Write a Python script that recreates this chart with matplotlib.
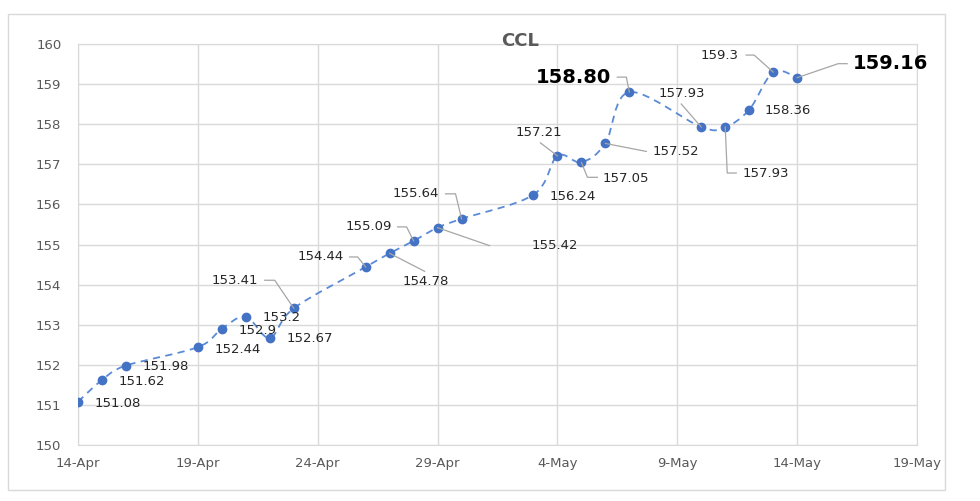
import datetime as dt
import numpy as np
import matplotlib
matplotlib.use("Agg")
import matplotlib.pyplot as plt
import matplotlib.dates as mdates
from matplotlib.path import Path
from matplotlib.patches import PathPatch, Rectangle
from matplotlib.lines import Line2D

# data
dates = ["2021-04-14", "2021-04-15", "2021-04-16", "2021-04-19", "2021-04-20",
         "2021-04-21", "2021-04-22", "2021-04-23", "2021-04-26", "2021-04-27",
         "2021-04-28", "2021-04-29", "2021-04-30", "2021-05-03", "2021-05-04",
         "2021-05-05", "2021-05-06", "2021-05-07", "2021-05-10", "2021-05-11",
         "2021-05-12", "2021-05-13", "2021-05-14"]
values = [151.08, 151.62, 151.98, 152.44, 152.9, 153.2, 152.67, 153.41, 154.44,
          154.78, 155.09, 155.42, 155.64, 156.24, 157.21, 157.05, 157.52, 158.8,
          157.93, 157.93, 158.36, 159.3, 159.16]
labels = ["151.08", "151.62", "151.98", "152.44", "152.9", "153.2", "152.67",
          "153.41", "154.44", "154.78", "155.09", "155.42", "155.64", "156.24",
          "157.21", "157.05", "157.52", "158.80", "157.93", "157.93", "158.36",
          "159.3", "159.16"]
bold_labels = {"158.80", "159.16"}

# label placement: (dx, dy, ha) in pixels, plus leader polyline offsets
label_pos = [
    (17, -2, "left", None),
    (17, -1, "left", None),
    (17, -1, "left", None),
    (17, -2, "left", None),
    (17, -2, "left", None),
    (17, -1, "left", None),
    (17, -1, "left", None),
    (-36, 28, "right", [(-19, 28), (-29, 28)]),
    (-22, 10, "right", [(-8, 10), (-16, 10)]),
    (13, -28, "left", [(35, -18)]),
    (-22, 14, "right", [(-7, 14), (-16, 14)]),
    (94, -18, "left", [(52, -18)]),
    (-23, 25, "right", [(-6, 25), (-16, 25)]),
    (16, -2, "left", None),
    (-19, 23, "center", [(-17, 13)]),
    (21, -16, "left", [(6, -15), (16, -15)]),
    (47, -8, "left", [(41, -8)]),
    (-18, 15, "right", [(-3, 15), (-12, 15)]),
    (-19, 34, "center", [(-20, 23)]),
    (17, -46, "left", [(2, -46), (11, -46)]),
    (15, -1, "left", None),
    (-35, 17, "right", [(-19, 17), (-27, 17)]),
    (56, 14, "left", [(41, 14), (50, 14)]),
]

W, H = 980, 501
fig = plt.figure(figsize=(W / 100, H / 100), dpi=100)
fig.patch.set_facecolor("white")
fig.patches.append(Rectangle((8 / W, 1 - 490 / H), 937 / W, 476 / H,
                             transform=fig.transFigure, fill=False,
                             edgecolor="#d9d9d9", linewidth=1))

ax = fig.add_axes([78 / W, 1 - 445 / H, (917 - 78) / W, (445 - 44) / H])

start = mdates.date2num(dt.datetime(2021, 4, 14))
end = mdates.date2num(dt.datetime(2021, 5, 19))
ax.set_xlim(start, end)
ax.set_ylim(150, 160)

x = mdates.date2num([dt.datetime.strptime(d, "%Y-%m-%d") for d in dates])
y = np.array(values)

# smoothed dashed line (Bezier through the points, like Excel "smoothed line")
pts = np.column_stack([x, y])
verts = [pts[0]]
codes = [Path.MOVETO]
n = len(pts)
for i in range(n - 1):
    p0 = pts[i - 1] if i > 0 else pts[i]
    p1 = pts[i]
    p2 = pts[i + 1]
    p3 = pts[i + 2] if i + 2 < n else pts[i + 1]
    c1 = p1 + (p2 - p0) / 6.0
    c2 = p2 - (p3 - p1) / 6.0
    verts += [c1, c2, p2]
    codes += [Path.CURVE4] * 3
ax.add_patch(PathPatch(Path(verts, codes), fill=False, edgecolor="#5b8bd6",
                       linewidth=1.3, linestyle=(0, (4, 3)), zorder=3))
ax.plot(x, y, linestyle="none", marker="o", markersize=6,
        color="#4472c4", zorder=4)

# labels and leader lines
for xi, yi, lab, (dx, dy, ha, leader) in zip(x, y, labels, label_pos):
    bold = lab in bold_labels
    ax.annotate(lab, (xi, yi), xytext=(dx, dy), textcoords="offset pixels",
                ha=ha, va="center", fontsize=14 if bold else 9.5,
                fontweight="bold" if bold else "normal",
                color="black" if bold else "#262626", zorder=5)
    if leader:
        px, py = ax.transData.transform((xi, yi))
        xs = [px] + [px + o[0] for o in leader]
        ys = [py] + [py + o[1] for o in leader]
        fig.add_artist(Line2D(np.array(xs) / W, np.array(ys) / H,
                              transform=fig.transFigure, color="#a6a6a6",
                              linewidth=0.9, zorder=2))

# axes
ax.set_xticks(np.arange(start, end + 1, 5))
ax.xaxis.set_major_formatter(mdates.DateFormatter("%-d-%b"))
ax.set_yticks(np.arange(150, 161, 1))
ax.grid(True, color="#d9d9d9", linewidth=1)
ax.set_axisbelow(True)
for s in ax.spines.values():
    s.set_color("#d9d9d9")
ax.tick_params(length=0, colors="#595959", labelsize=9.5)
ax.tick_params(axis="y", pad=12)
ax.tick_params(axis="x", pad=9)

fig.text(520 / W, 1 - 41 / H, "CCL", ha="center", va="center",
         fontsize=13, fontweight="bold", color="#595959")

fig.savefig("out.png", dpi=100)
